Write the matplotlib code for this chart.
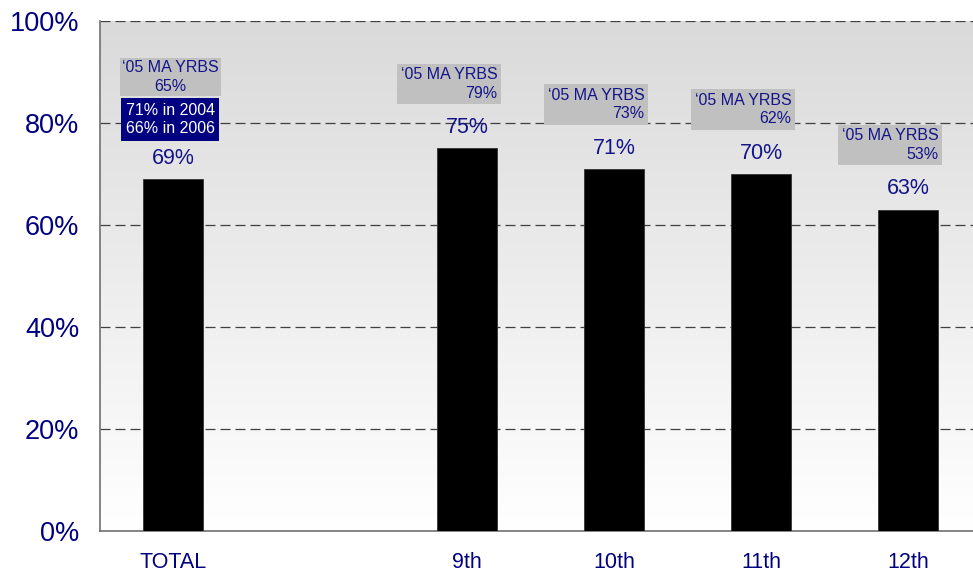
import numpy as np
import matplotlib
matplotlib.use("Agg")
import matplotlib.pyplot as plt

plt.rcParams["font.family"] = ["Liberation Sans", "DejaVu Sans"]

categories = ["TOTAL", "9th", "10th", "11th", "12th"]
positions = [0, 2, 3, 4, 5]
values = [69, 75, 71, 70, 63]
ma_yrbs_2005 = [65, 79, 73, 62, 53]
total_note = "71% in 2004\n66% in 2006"

NAVY = "#000080"
TEXT = "#14148a"
BOX_GRAY = "#c0c0c0"

fig = plt.figure(figsize=(9.73, 5.74), dpi=100)
ax = fig.add_axes([100 / 973, 43 / 574, 873 / 973, 510 / 574])

# gradient background: light gray at top fading to white
grad = np.linspace(0, 1, 256).reshape(-1, 1)
cmap = matplotlib.colors.LinearSegmentedColormap.from_list("bg", ["#ffffff", "#dadada"])
ax.imshow(grad, extent=[0, 1, 0, 1], transform=ax.transAxes, origin="lower",
          aspect="auto", cmap=cmap, zorder=0)

ax.bar(positions, values, width=0.41, color="black", edgecolor="#333333",
       linewidth=0.6, zorder=3)

ax.set_xlim(-0.497, 5.442)
ax.set_ylim(0, 100)
ax.set_yticks(range(0, 101, 20))
ax.set_yticklabels([f"{v}%" for v in range(0, 101, 20)])
ax.set_xticks(positions)
ax.set_xticklabels(categories)
ax.tick_params(axis="y", length=0, pad=15, labelsize=19.5, labelcolor=NAVY)
ax.tick_params(axis="x", length=0, pad=15, labelsize=15.5, labelcolor=NAVY)

for y in range(20, 101, 20):
    ax.axhline(y, color="#404040", linestyle=(0, (8, 4)), linewidth=0.9, zorder=1)

for side in ["top", "right"]:
    ax.spines[side].set_visible(False)
for side in ["left", "bottom"]:
    ax.spines[side].set_color("#707070")
    ax.spines[side].set_linewidth(1.2)

for i, (x, v, ma) in enumerate(zip(positions, values, ma_yrbs_2005)):
    ax.annotate(f"{v}%", xy=(x, v), xytext=(0, 15), textcoords="offset points",
                ha="center", va="center", fontsize=15.5, color=TEXT, zorder=5)
    if i == 0:
        ax.annotate(f"\u201805 MA YRBS\n{ma}%", xy=(x, v), xytext=(-2, 73.5),
                    textcoords="offset points", ha="center", va="center",
                    multialignment="center", fontsize=11.5, color=TEXT,
                    linespacing=1.3, zorder=5,
                    bbox=dict(boxstyle="square,pad=0.12", fc=BOX_GRAY, ec="none"))
        ax.annotate(total_note, xy=(x, v), xytext=(-2, 43),
                    textcoords="offset points", ha="center", va="center",
                    multialignment="center", fontsize=11.5, color="white",
                    linespacing=1.3, zorder=5,
                    bbox=dict(boxstyle="square,pad=0.28", fc=NAVY, ec="none"))
    else:
        ax.annotate(f"\u201805 MA YRBS\n{ma}%", xy=(x, v), xytext=(-13, 46.5),
                    textcoords="offset points", ha="center", va="center",
                    multialignment="right", fontsize=11.5, color=TEXT,
                    linespacing=1.3, zorder=5,
                    bbox=dict(boxstyle="square,pad=0.22", fc=BOX_GRAY, ec="none"))

fig.savefig("out.png", dpi=100)
